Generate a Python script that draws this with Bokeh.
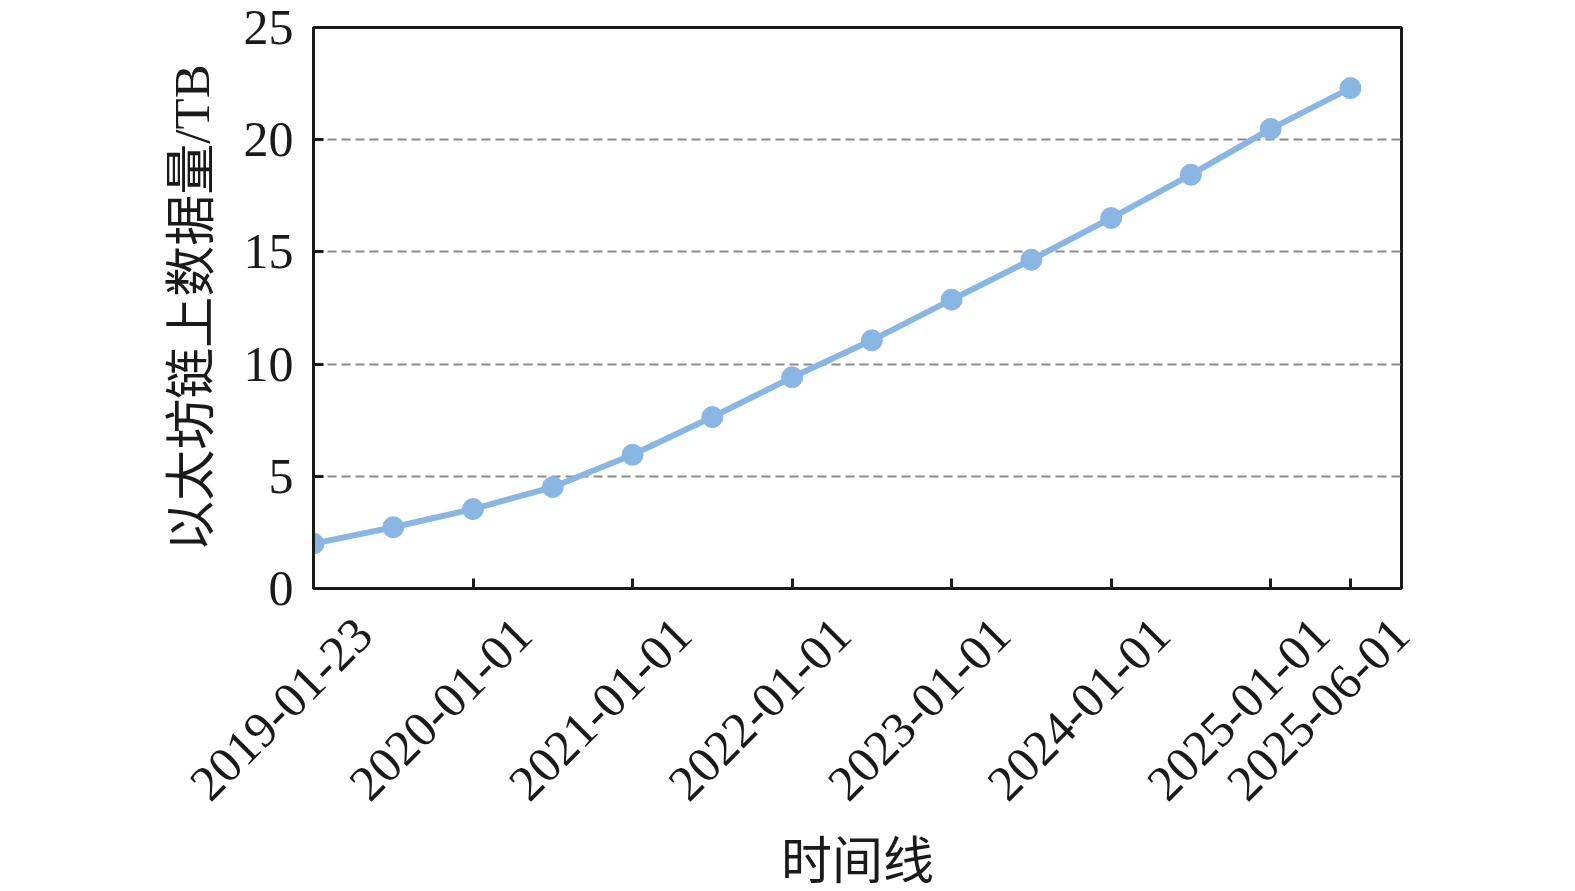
from math import pi
from bokeh.plotting import figure
from bokeh.models import Range1d, FixedTicker, LinearAxis
from bokeh.embed import file_html
from bokeh.resources import INLINE

# ---- data ----
values = [2.0, 2.73, 3.54, 4.52, 5.96, 7.64, 9.41, 11.06, 12.87, 14.65, 16.51, 18.44, 20.48, 22.30]
tick_positions = [0, 2, 4, 6, 8, 10, 12, 13]
tick_labels = ["2019-01-23", "2020-01-01", "2021-01-01", "2022-01-01",
               "2023-01-01", "2024-01-01", "2025-01-01", "2025-06-01"]
y_ticks = [0, 5, 10, 15, 20, 25]
x_title = "时间线"
y_title = "以太坊链上数据量/TB"

x = list(range(len(values)))

BLUE = "#8ab6e4"
INK = "#1a1a1a"
SERIF = "'Liberation Serif', 'Noto Sans CJK SC'"
FS = "50px"
TFS = "51px"
LABEL_SHIFT = 0.63  # horizontal placement of the rotated date labels (in index units)

p = figure(frame_width=1088, frame_height=561,
           x_range=Range1d(0, 13.64), y_range=Range1d(0, 25),
           output_backend="svg", toolbar_location=None,
           min_border_left=313, min_border_top=27,
           min_border_right=170, min_border_bottom=280)

p.background_fill_color = "white"
p.border_fill_color = "white"
p.outline_line_color = INK
p.outline_line_width = 3

p.line(x, values, line_color=BLUE, line_width=6)
p.scatter(x, values, size=21, fill_color=BLUE, line_color=BLUE)

# grid
p.xgrid.visible = False
p.ygrid.ticker = FixedTicker(ticks=y_ticks)
p.ygrid.grid_line_color = "#8c8c8c"
p.ygrid.grid_line_width = 2
p.ygrid.grid_line_dash = "9 5"

# y axis
ya = p.yaxis[0]
ya.ticker = FixedTicker(ticks=y_ticks)
ya.axis_line_width = 3
ya.axis_line_color = INK
ya.major_tick_line_width = 3
ya.major_tick_line_color = INK
ya.major_tick_in = 10
ya.major_tick_out = 0
ya.minor_tick_line_color = None
ya.major_label_text_font = SERIF
ya.major_label_text_font_size = FS
ya.major_label_text_color = INK
ya.major_label_standoff = 20
ya.axis_label = y_title
ya.axis_label_standoff = 21
ya.axis_label_text_font = SERIF
ya.axis_label_text_font_size = TFS
ya.axis_label_text_font_style = "normal"
ya.axis_label_text_color = INK

# main x axis: axis line + inward tick marks at the labelled dates
xa = p.xaxis[0]
xa.ticker = FixedTicker(ticks=[], minor_ticks=tick_positions)
xa.axis_line_width = 3
xa.axis_line_color = INK
xa.major_tick_line_color = None
xa.minor_tick_line_color = INK
xa.minor_tick_line_width = 3
xa.minor_tick_in = 10
xa.minor_tick_out = 0
xa.major_label_standoff = 0

# label axis: rotated date labels + title
p.extra_x_ranges = {"labels": Range1d(0 - LABEL_SHIFT, 13.64 - LABEL_SHIFT)}
la = LinearAxis(x_range_name="labels",
                ticker=FixedTicker(ticks=tick_positions),
                major_label_overrides={pos: lab for pos, lab in zip(tick_positions, tick_labels)},
                major_label_orientation=pi / 4,
                major_label_standoff=32,
                axis_line_color=None,
                major_tick_line_color=None,
                minor_tick_line_color=None,
                major_label_text_font=SERIF,
                major_label_text_font_size=FS,
                major_label_text_color=INK,
                axis_label=x_title,
                axis_label_standoff=16,
                axis_label_text_font=SERIF,
                axis_label_text_font_size=TFS,
                axis_label_text_font_style="normal",
                axis_label_text_color=INK)
p.add_layout(la, "below")

open("out.html", "w").write(file_html(p, INLINE))
